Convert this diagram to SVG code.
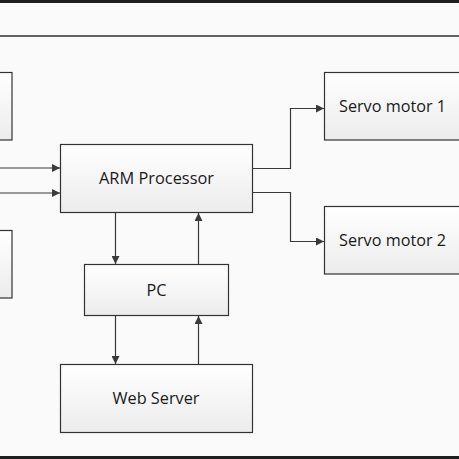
<svg xmlns="http://www.w3.org/2000/svg" width="459" height="459" viewBox="0 0 459 459">
  <defs>
    <linearGradient id="boxfill" x1="0" y1="0" x2="0" y2="1">
      <stop offset="0" stop-color="#ffffff"/>
      <stop offset="1" stop-color="#ececec"/>
    </linearGradient>
    <marker id="arrow" viewBox="0 0 10 10" refX="10" refY="5" markerWidth="8" markerHeight="8" markerUnits="userSpaceOnUse" orient="auto">
      <path d="M0,0 L10,5 L0,10 z" fill="#3a3a3a"/>
    </marker>
  </defs>
  <style>
    .box { fill: url(#boxfill); stroke: #333333; stroke-width: 1.2; }
    .conn { fill: none; stroke: #3a3a3a; stroke-width: 1.2; marker-end: url(#arrow); }
    .lbl { font-family: "Open Sans", "Noto Sans", sans-serif; font-size: 17px; fill: #1a1a1a; }
  </style>
  <rect x="0" y="0" width="459" height="459" fill="#fafafa"/>
  <rect x="0" y="0" width="459" height="3" fill="#1e1e1e"/>
  <rect x="0" y="456" width="459" height="3" fill="#1e1e1e"/>
  <line x1="0" y1="36" x2="459" y2="36" stroke="#2e2e2e" stroke-width="1.3"/>

  <g id="left-top"><rect class="box" x="-20" y="72.5" width="32" height="67.5"/></g>
  <g id="left-bottom"><rect class="box" x="-20" y="230.5" width="32" height="67.5"/></g>

  <g id="arm">
    <rect class="box" x="60.5" y="144.5" width="192" height="68"/>
    <text class="lbl" x="156.5" y="184" text-anchor="middle" textLength="115" lengthAdjust="spacingAndGlyphs">ARM Processor</text>
  </g>
  <g id="servo1">
    <rect class="box" x="324.5" y="72.5" width="150" height="67.5"/>
    <text class="lbl" x="339" y="112" textLength="107" lengthAdjust="spacingAndGlyphs">Servo motor 1</text>
  </g>
  <g id="servo2">
    <rect class="box" x="324.5" y="206.5" width="150" height="67.5"/>
    <text class="lbl" x="339" y="246" textLength="107" lengthAdjust="spacingAndGlyphs">Servo motor 2</text>
  </g>
  <g id="pc">
    <rect class="box" x="84.5" y="264.5" width="144" height="51"/>
    <text class="lbl" x="156.5" y="296" text-anchor="middle" textLength="20" lengthAdjust="spacingAndGlyphs">PC</text>
  </g>
  <g id="webserver">
    <rect class="box" x="60.5" y="364.5" width="192" height="68"/>
    <text class="lbl" x="156" y="404" text-anchor="middle" textLength="87" lengthAdjust="spacingAndGlyphs">Web Server</text>
  </g>

  <g id="connectors">
    <path class="conn" d="M0,168 H60"/>
    <path class="conn" d="M0,193 H60"/>
    <path class="conn" d="M252.5,168.5 H290.5 V108.5 H324"/>
    <path class="conn" d="M252.5,192.5 H290.5 V241.5 H324"/>
    <path class="conn" d="M115.5,213 V264"/>
    <path class="conn" d="M198.5,264 V213"/>
    <path class="conn" d="M115.5,316 V364"/>
    <path class="conn" d="M198.5,364 V316"/>
  </g>
</svg>
